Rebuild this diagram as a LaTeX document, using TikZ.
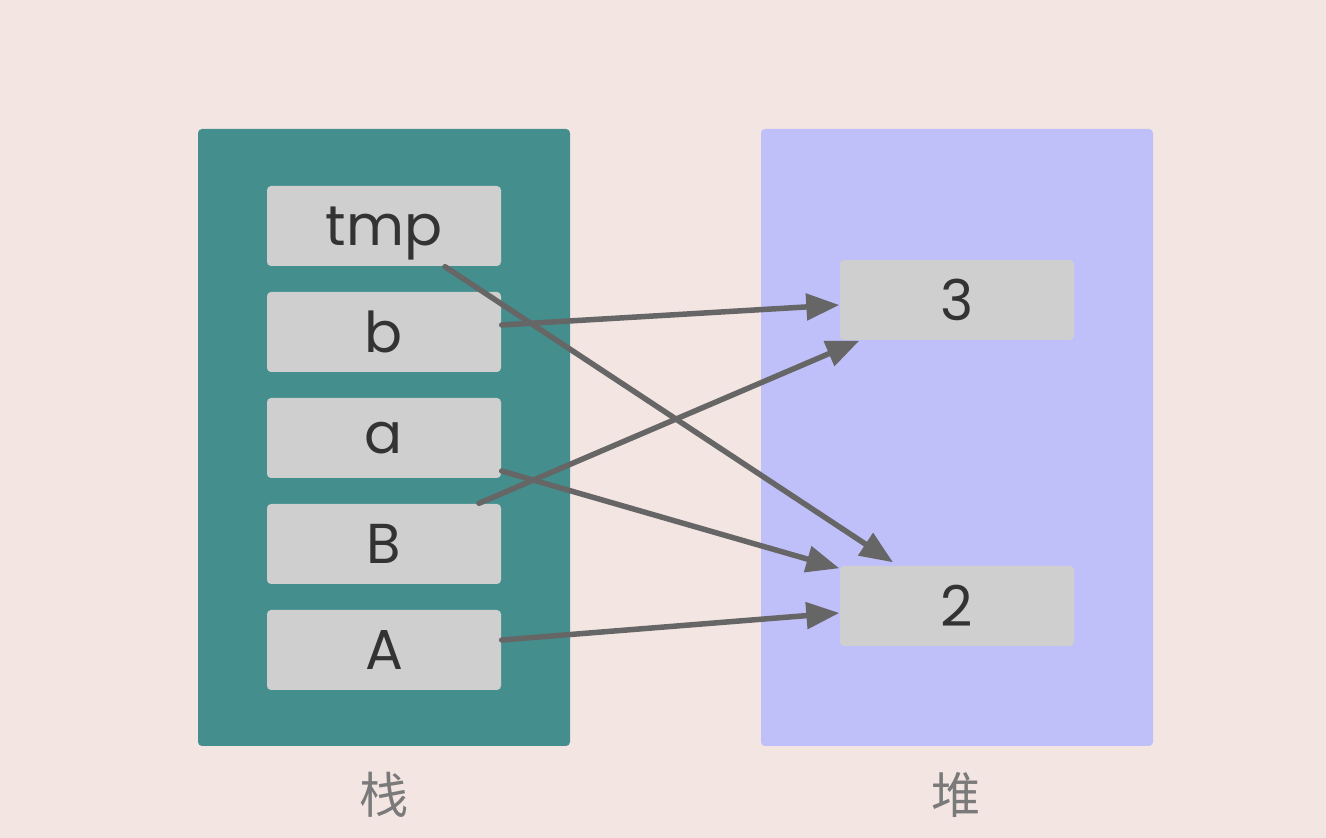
\documentclass[tikz,border=0pt]{standalone}
\usepackage{fontspec}
\setmainfont{Poppins}
\newfontfamily\cjk{Noto Sans CJK SC}
\usepackage{tikz}
\usetikzlibrary{matrix, arrows.meta}
\definecolor{bgpink}{HTML}{F3E5E2}
\definecolor{stackteal}{HTML}{448E8E}
\definecolor{heapblue}{HTML}{BFC0F9}
\definecolor{cellgray}{HTML}{CFCFCF}
\definecolor{textdark}{HTML}{333333}
\definecolor{arrowgray}{HTML}{666666}
\definecolor{labelgray}{HTML}{7A7A7A}
\tikzset{
  cell/.style={fill=cellgray, rounded corners=0.04cm, minimum width=2.34cm, minimum height=0.8cm, inner sep=0pt, text=textdark, font=\fontsize{16}{18}\selectfont},
  ptr/.style={draw=arrowgray, line width=0.055cm, line cap=round, -{Triangle[length=0.33cm, width=0.26cm]}},
  area/.style={text=labelgray, font=\cjk\fontsize{14}{16}\selectfont}
}

\begin{document}
\begin{tikzpicture}
\fill[bgpink] (0,0) rectangle (13.26,8.38);
\useasboundingbox (0,0) rectangle (13.26,8.38);
\fill[stackteal, rounded corners=0.04cm] (1.98,0.92) rectangle (5.70,7.09);
\fill[heapblue, rounded corners=0.04cm] (7.61,0.92) rectangle (11.53,7.09);
\matrix (S)[matrix of nodes, row sep=0.26cm, nodes={cell, anchor=center}] at (3.84,4.00) {
|[text depth=0pt]| tmp \\
b \\
a \\
B \\
A \\
};
\node[cell] (h3) at (9.57,5.38) {3};
\node[cell] (h2) at (9.57,2.32) {2};
\node[area] (stk) at (3.84,0.43) {栈};
\node[area] (hp) at (9.56,0.43) {堆};
\draw[ptr] ([xshift=0.61cm]S-1-1.south) -- ([xshift=-0.64cm,yshift=0.03cm]h2.north);
\draw[ptr] ([yshift=0.07cm]S-2-1.east) -- ([yshift=-0.05cm]h3.west);
\draw[ptr] ([xshift=0.95cm]S-4-1.north) -- ([xshift=0.2cm]h3.south west);
\draw[ptr] ([yshift=-0.33cm]S-3-1.east) -- ([yshift=-0.03cm]h2.north west);
\draw[ptr] ([yshift=0.1cm]S-5-1.east) -- ([yshift=-0.07cm]h2.west);
\end{tikzpicture}
\end{document}
